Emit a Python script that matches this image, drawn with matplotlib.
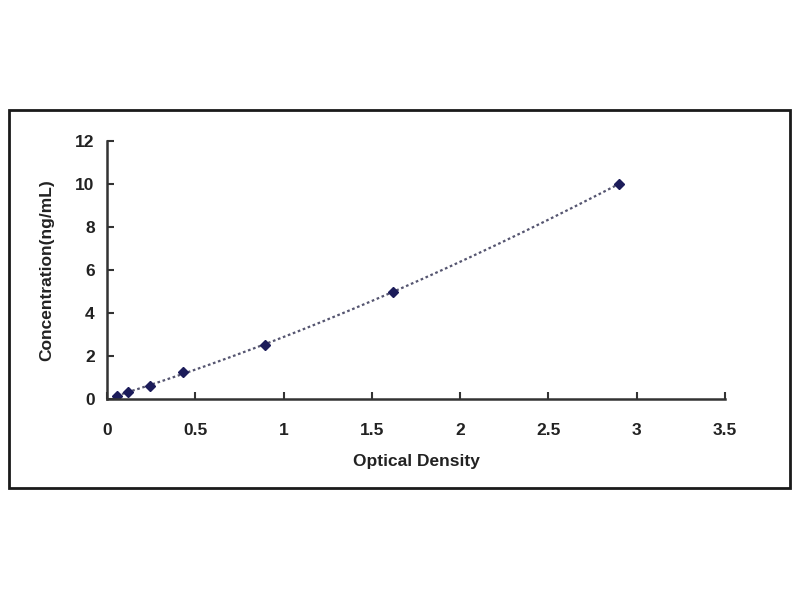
import matplotlib
matplotlib.use('Agg')
import matplotlib.pyplot as plt
import numpy as np
from matplotlib.patches import Rectangle

plt.rcParams['font.family'] = ['Liberation Sans', 'DejaVu Sans']

# standard curve readings (OD vs concentration)
od = [0.055, 0.12, 0.244, 0.43, 0.895, 1.62, 2.9]
conc = [0.156, 0.312, 0.625, 1.25, 2.5, 5.0, 10.0]

x_ticks = [0, 0.5, 1, 1.5, 2, 2.5, 3, 3.5]
x_labels = ['0', '0.5', '1', '1.5', '2', '2.5', '3', '3.5']
y_ticks = [0, 2, 4, 6, 8, 10, 12]

navy = '#1c1c5a'

fig = plt.figure(figsize=(8, 6), dpi=100)

# outer chart border
fig.patches.append(Rectangle((0.011, 0.187), 0.976, 0.630, transform=fig.transFigure,
                             fill=False, edgecolor='#1a1a1a', linewidth=2.0))

ax = fig.add_axes([0.134, 0.335, 0.772, 0.430])

# smooth trend line through the standards
coef = np.polyfit(od, conc, 3)
xs = np.linspace(min(od), max(od), 200)
ax.plot(xs, np.polyval(coef, xs), linestyle=(0, (1.2, 1.2)), color='#555570', linewidth=1.6)
ax.plot(od, conc, linestyle='none', marker='D', markersize=5, color=navy)

ax.set_xlim(0, 3.5)
ax.set_ylim(0, 12)
ax.set_xticks(x_ticks)
ax.set_xticklabels(x_labels)
ax.set_yticks(y_ticks)

for s in ['top', 'right']:
    ax.spines[s].set_visible(False)
for s in ['left', 'bottom']:
    ax.spines[s].set_color('#333333')
    ax.spines[s].set_linewidth(1.8)

ax.tick_params(direction='in', length=5, width=1.5, color='#333333', labelsize=12.5)
ax.tick_params(axis='x', pad=17)
ax.tick_params(axis='y', pad=9)
for lab in ax.get_xticklabels() + ax.get_yticklabels():
    lab.set_fontweight('bold')
    lab.set_color('#222222')

ax.set_xlabel('Optical Density', fontsize=12.5, fontweight='bold', color='#222222', labelpad=12)
ax.set_ylabel('Concentration(ng/mL)', fontsize=12.5, fontweight='bold', color='#222222', labelpad=15)

fig.savefig('out.png', dpi=100)
